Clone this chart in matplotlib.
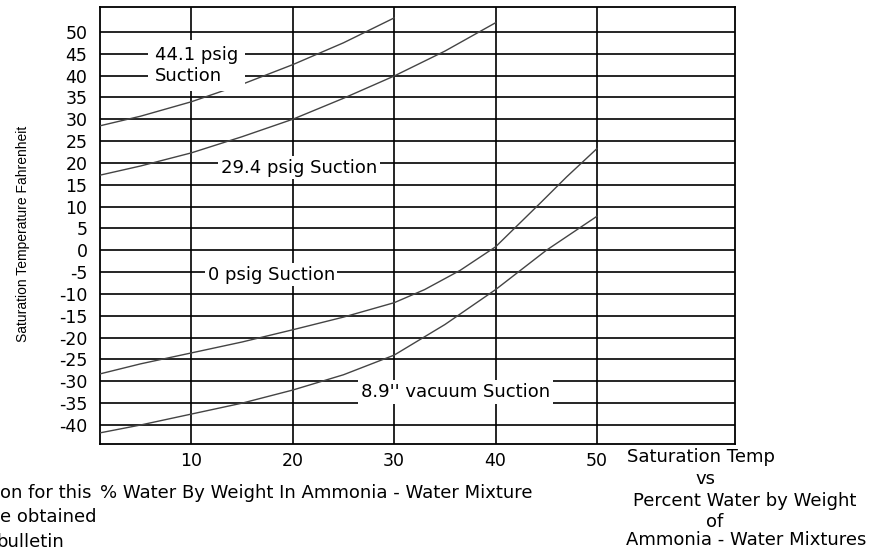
import matplotlib
matplotlib.use("Agg")
import matplotlib.pyplot as plt
from matplotlib import font_manager

plt.rcParams["axes.unicode_minus"] = False

# curve data (% water by weight vs saturation temp F)
x_441 = [1, 5, 10, 15, 20, 25, 30]
y_441 = [28.5, 30.7, 34.0, 38.0, 42.5, 47.5, 53.2]

x_294 = [1, 5, 10, 15, 20, 25, 30, 35, 40]
y_294 = [17.2, 19.3, 22.3, 26.0, 30.0, 34.8, 39.9, 45.6, 52.1]

x_0 = [1, 5, 10, 15, 20, 25, 30, 33, 36.5, 40, 44.4, 47, 50]
y_0 = [-28.3, -26.0, -23.5, -21.0, -18.2, -15.3, -12.0, -9.0, -4.6, 0.8, 10.8, 16.8, 23.3]

x_89 = [1, 5, 10, 15, 20, 25, 30, 35, 40, 45, 50]
y_89 = [-41.8, -40.0, -37.5, -35.0, -32.0, -28.5, -24.0, -17.0, -9.0, 0.0, 7.8]

x_ticks = [10, 20, 30, 40, 50]
y_ticks = list(range(-40, 55, 5))

FONT = "DejaVu Sans"
FS = 13

# narrow font for the rotated axis title, if there is one
names = {f.name for f in font_manager.fontManager.ttflist}
if "Liberation Sans Narrow" in names:
    ylab_font, ylab_size = "Liberation Sans Narrow", 12.3
else:
    ylab_font, ylab_size = "Liberation Sans", 10

fig = plt.figure(figsize=(8.73, 5.54), dpi=100)
ax = fig.add_axes([100 / 873, 1 - 444 / 554, 635 / 873, 437 / 554])

ax.set_xlim(1.0, 63.6)
ax.set_ylim(-44.35, 55.7)
ax.set_xticks(x_ticks)
ax.set_yticks(y_ticks)
ax.tick_params(length=0, labelsize=12.5)
ax.tick_params(axis="y", pad=9)
ax.tick_params(axis="x", pad=6)
for lab in ax.get_xticklabels() + ax.get_yticklabels():
    lab.set_fontfamily(FONT)
ax.grid(True, color="black", linewidth=1.2)
ax.set_axisbelow(True)
for sp in ax.spines.values():
    sp.set_linewidth(1.3)
    sp.set_color("black")

for xs, ys in [(x_441, y_441), (x_294, y_294), (x_0, y_0), (x_89, y_89)]:
    ax.plot(xs, ys, color="#444444", linewidth=1.0, zorder=3)

box = dict(facecolor="white", edgecolor="none", pad=2)
ax.text(6.4, 42.3, "44.1 psig\nSuction", fontsize=FS, family=FONT, ha="left",
        va="center", linespacing=1.15, bbox=dict(facecolor="white", edgecolor="none", pad=5), zorder=5)
ax.text(12.9, 18.9, "29.4 psig Suction", fontsize=FS, family=FONT, ha="left",
        va="center", bbox=box, zorder=5)
ax.text(11.6, -5.6, "0 psig Suction", fontsize=FS, family=FONT, ha="left",
        va="center", bbox=box, zorder=5)
ax.text(26.7, -32.4, "8.9'' vacuum Suction", fontsize=FS, family=FONT, ha="left",
        va="center", bbox=box, zorder=5)

# axis titles and notes, placed in figure pixels
W, H = 873, 554
fig.text(23 / W, 1 - 234 / H, "Saturation Temperature Fahrenheit", rotation=90,
         fontsize=ylab_size, family=ylab_font, ha="center", va="center")
fig.text(100 / W, 1 - 493 / H, "% Water By Weight In Ammonia - Water Mixture",
         fontsize=FS, family=FONT, ha="left", va="center")
fig.text(0 / W, 1 - 493 / H, "on for this", fontsize=FS, family=FONT, ha="left", va="center")
fig.text(0 / W, 1 - 517 / H, "e obtained", fontsize=FS, family=FONT, ha="left", va="center")
fig.text(-4 / W, 1 - 542 / H, "bulletin", fontsize=FS, family=FONT, ha="left", va="center")

fig.text(627 / W, 1 - 457 / H, "Saturation Temp", fontsize=FS, family=FONT, ha="left", va="center")
fig.text(705 / W, 1 - 479 / H, "vs", fontsize=FS, family=FONT, ha="center", va="center")
fig.text(745 / W, 1 - 501 / H, "Percent Water by Weight", fontsize=FS, family=FONT, ha="center", va="center")
fig.text(715 / W, 1 - 522 / H, "of", fontsize=FS, family=FONT, ha="center", va="center")
fig.text(746 / W, 1 - 540 / H, "Ammonia - Water Mixtures", fontsize=FS, family=FONT, ha="center", va="center")

fig.savefig("out.png", dpi=100)
